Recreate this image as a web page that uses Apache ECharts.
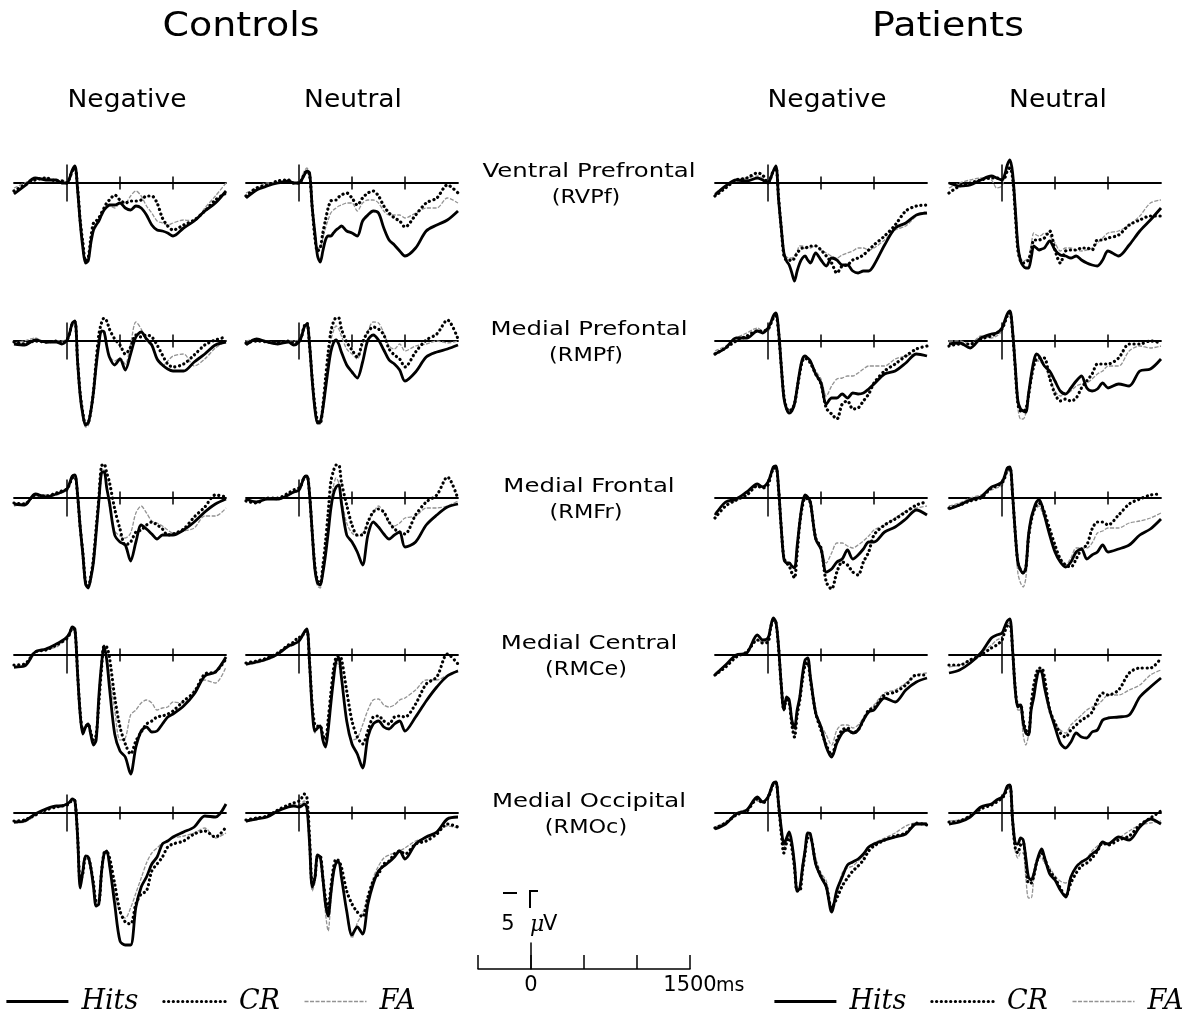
<!DOCTYPE html>
<html>

<head>
  <meta charset="utf-8">
  <style>
    html,
    body {
      width: 100%;
      height: 100%;
      margin: 0;
      padding: 0;
      overflow: hidden;
      background-color: #fff;
    }

    #container {
      width: 1193px;
      height: 1015px;
      background: #fff;
      position: absolute;
      top: 0;
      left: 0;
    }
  </style>
</head>

<body>
  <div id="container"></div>

  <script src="https://cdn.jsdelivr.net/npm/echarts@6/dist/echarts.min.js"></script>
  <script>
    // sample times (ms), denser over the early components
    var times = [-500, -400, -300, -200, -100, -50, 0, 25, 50, 75, 100, 125, 150, 175, 200, 225, 250, 275, 300, 325, 350, 375, 400,
      450, 500, 550, 600, 650, 700, 750, 800, 850, 900, 950, 1000, 1100, 1200, 1300, 1400, 1500];

    var groupNames = ['Controls', 'Patients'];
    var valenceNames = ['Negative', 'Neutral', 'Negative', 'Neutral'];
    var regionNames = ['Ventral Prefrontal', 'Medial Prefontal', 'Medial Frontal', 'Medial Central', 'Medial Occipital'];
    var regionCodes = ['(RVPf)', '(RMPf)', '(RMFr)', '(RMCe)', '(RMOc)'];
    var conditions = ['Hits', 'CR', 'FA'];
    var tickTimes = [0, 500, 1000];

    // amplitudes in uV (positive plotted downward)
    // --- Ventral Prefrontal
    var cn_vpf_hits = [1.1, 0.3, -0.5, -0.3, -0.3, 0.0, 0.0, -0.5, -1.3, -1.7, 0.7, 4.0, 6.5, 8.0, 7.8, 6.0, 4.7, 4.2, 3.8, 3.2, 2.7, 2.4, 2.2, 2.2, 2.0, 2.5, 2.7, 2.3, 2.5, 3.2, 4.2, 4.7, 4.8, 5.0, 5.3, 4.5, 3.8, 2.8, 2.0, 0.8];
    var cn_vpf_cr = [0.8, 0.2, -0.3, -0.5, -0.2, -0.2, 0.0, -0.5, -1.2, -1.5, 0.5, 3.8, 6.0, 7.8, 7.5, 5.5, 4.0, 3.8, 3.5, 3.0, 2.5, 2.0, 1.7, 1.2, 1.7, 2.0, 1.8, 1.8, 1.7, 1.3, 1.3, 2.0, 3.5, 4.3, 4.7, 4.2, 3.7, 2.8, 1.7, 1.0];
    var cn_vpf_fa = [0.5, 0.0, -0.5, -0.5, -0.2, -0.3, 0.0, -0.5, -1.4, -1.7, 0.3, 3.8, 6.0, 7.8, 7.5, 5.8, 4.5, 4.2, 3.8, 3.3, 2.7, 2.5, 2.3, 2.5, 2.0, 2.0, 1.3, 0.8, 1.3, 2.3, 3.0, 3.8, 4.0, 4.2, 4.0, 3.7, 3.8, 2.5, 1.3, 0.0];
    var cu_vpf_hits = [1.5, 0.7, 0.3, 0.0, -0.2, 0.0, 0.0, -0.3, -0.8, -1.2, -1.0, 2.5, 5.0, 7.3, 7.9, 6.8, 5.7, 5.3, 5.3, 5.0, 4.7, 4.5, 4.3, 4.8, 5.0, 5.3, 3.8, 3.2, 2.8, 3.0, 4.5, 5.7, 6.2, 6.8, 7.3, 6.5, 4.8, 4.2, 3.7, 2.8];
    var cu_vpf_cr = [1.3, 0.5, 0.2, -0.2, -0.3, 0.0, 0.0, -0.3, -0.9, -1.2, -0.8, 2.5, 5.5, 6.8, 6.5, 5.0, 3.7, 2.5, 1.8, 1.7, 1.7, 1.4, 1.2, 1.0, 1.5, 2.2, 1.5, 1.0, 0.8, 1.3, 2.3, 3.0, 3.5, 3.8, 4.4, 3.2, 2.0, 1.5, 0.2, 1.0];
    var cu_vpf_fa = [1.0, 0.5, 0.0, 0.0, -0.3, 0.0, 0.0, -0.5, -1.2, -1.5, -0.8, 2.5, 5.0, 6.5, 6.5, 5.5, 4.5, 3.7, 3.0, 2.7, 2.5, 2.3, 2.2, 2.0, 2.0, 2.8, 2.0, 1.7, 1.7, 2.0, 2.8, 3.2, 3.2, 3.2, 3.5, 3.0, 2.5, 2.5, 1.5, 2.0];
    var pn_vpf_hits = [1.2, 0.3, -0.3, -0.2, -0.5, -0.3, 0.0, -0.5, -1.2, -1.7, 1.7, 4.5, 7.0, 7.8, 8.2, 9.0, 9.8, 8.8, 8.0, 7.5, 7.3, 7.7, 8.0, 7.0, 7.7, 8.3, 7.5, 7.7, 8.2, 8.2, 8.8, 9.0, 8.8, 8.8, 8.2, 6.2, 4.5, 4.0, 3.2, 3.0];
    var pn_vpf_cr = [1.3, 0.5, -0.3, -0.5, -1.0, -0.8, 0.0, -0.5, -1.2, -1.5, 1.5, 4.5, 7.3, 7.7, 7.7, 7.8, 7.5, 7.0, 6.7, 6.5, 6.5, 6.4, 6.3, 6.3, 6.7, 7.3, 8.0, 9.0, 8.3, 8.2, 7.7, 7.5, 7.2, 6.7, 6.2, 5.3, 4.2, 2.8, 2.3, 2.2];
    var pn_vpf_fa = [1.0, 0.3, -0.3, -0.5, -0.7, -0.5, 0.0, -0.5, -1.2, -1.5, 1.5, 4.5, 7.0, 7.4, 7.5, 7.5, 7.3, 6.8, 6.3, 6.3, 6.5, 6.5, 6.5, 6.2, 6.7, 7.0, 7.3, 7.5, 7.2, 7.0, 6.8, 6.5, 6.5, 6.7, 6.5, 5.7, 4.7, 4.3, 3.3, 2.8];
    var pu_vpf_hits = [0.0, 0.3, 0.2, -0.3, -0.7, -0.5, -0.3, -0.8, -1.8, -2.3, -1.0, 2.5, 6.3, 7.8, 8.3, 8.5, 8.5, 7.5, 6.3, 6.5, 6.7, 6.6, 6.5, 5.8, 6.7, 7.2, 7.3, 7.5, 7.3, 7.7, 8.0, 8.2, 8.3, 7.7, 6.8, 7.3, 6.2, 4.8, 3.7, 2.5];
    var pu_vpf_cr = [1.0, 0.3, 0.0, -0.3, -0.5, -0.5, -0.3, -0.5, -1.2, -1.5, -0.5, 3.0, 6.7, 7.8, 8.0, 7.9, 7.7, 6.8, 5.7, 5.7, 5.7, 5.6, 5.5, 4.8, 6.7, 8.0, 6.8, 6.7, 6.7, 6.5, 6.5, 6.7, 5.7, 5.7, 5.5, 5.2, 4.2, 3.7, 3.3, 3.3];
    var pu_vpf_fa = [0.5, 0.0, -0.3, -0.5, -0.3, 0.5, 0.3, -0.8, -1.5, -1.8, -0.5, 3.0, 6.5, 7.5, 7.8, 7.7, 7.5, 6.2, 5.0, 5.2, 5.3, 5.2, 5.0, 5.3, 6.0, 6.8, 6.5, 6.5, 6.7, 6.8, 6.7, 6.5, 6.0, 5.5, 5.0, 4.8, 4.2, 3.3, 2.0, 1.7];

    // --- Medial Prefrontal
    var cn_mpf_hits = [0.3, 0.4, -0.1, 0.1, 0.1, 0.3, -0.1, -0.8, -1.8, -2.0, 2.1, 5.5, 7.4, 8.4, 8.2, 7.0, 5.1, 2.5, 0.4, -1.0, -0.9, 0.5, 1.6, 2.4, 1.8, 2.9, 1.3, -0.4, -0.9, -0.2, 0.4, 1.8, 2.4, 2.8, 3.0, 3.0, 2.1, 1.3, 0.4, 0.1];
    var cn_mpf_cr = [0.1, 0.3, 0.0, 0.1, 0.0, 0.2, -0.1, -0.8, -1.7, -1.9, 2.0, 5.3, 7.2, 8.3, 8.2, 7.0, 5.0, 2.0, -0.6, -1.8, -2.3, -2.0, -1.2, -0.2, 0.4, 1.3, 0.6, -0.6, -0.4, -0.6, -0.4, 0.4, 1.4, 2.3, 2.6, 2.3, 1.4, 0.4, -0.1, -0.4];
    var cn_mpf_fa = [0.2, 0.0, -0.3, 0.2, 0.0, 0.0, -0.2, -0.7, -1.6, -1.8, 2.0, 5.5, 7.5, 8.6, 8.5, 7.2, 5.0, 2.2, 0.0, -1.0, -1.0, 0.3, 1.5, 2.0, 1.7, 2.3, 0.3, -1.9, -1.2, 0.0, 0.5, 1.8, 2.5, 2.0, 1.5, 1.3, 2.5, 1.8, 0.7, 0.0];
    var cu_mpf_hits = [0.4, -0.2, 0.1, 0.3, 0.1, 0.4, 0.1, -0.5, -1.4, -1.7, 0.4, 4.0, 6.8, 8.2, 8.1, 6.8, 4.8, 2.8, 1.1, 0.2, -0.1, 0.3, 1.1, 2.4, 3.1, 3.7, 2.1, -0.1, -0.6, -0.1, 0.9, 1.9, 2.3, 2.9, 4.0, 3.1, 1.6, 1.1, 0.8, 0.4];
    var cu_mpf_cr = [0.2, 0.0, 0.1, 0.2, 0.0, 0.2, 0.0, -0.5, -1.5, -1.8, 0.5, 3.8, 6.5, 8.0, 8.2, 6.5, 3.8, 1.2, -0.9, -1.9, -2.3, -2.3, -1.2, 0.1, 0.9, 1.6, 0.1, -0.9, -1.4, -1.2, -0.6, 0.8, 1.4, 1.8, 2.6, 1.1, -0.1, -0.7, -2.1, -0.2];
    var cu_mpf_fa = [0.0, -0.2, 0.0, 0.2, 0.0, 0.0, -0.1, -0.5, -1.5, -1.8, 0.5, 4.0, 7.0, 8.3, 8.3, 6.5, 4.0, 1.8, 0.0, -1.0, -1.5, -1.2, -0.5, 0.8, 1.3, 1.8, 0.3, -1.0, -1.9, -1.8, -0.8, 0.5, 0.8, 0.3, 1.0, 0.5, 0.3, 0.0, 0.2, 0.0];
    var pn_mpf_hits = [1.3, 0.7, -0.3, -0.3, -1.0, -0.8, -1.3, -1.8, -2.5, -2.8, -1.0, 2.5, 5.7, 6.8, 7.2, 7.0, 6.3, 4.7, 3.0, 1.8, 1.5, 1.7, 2.0, 3.3, 4.2, 6.3, 5.7, 5.7, 5.3, 5.7, 5.2, 5.3, 5.2, 4.8, 4.3, 3.3, 3.0, 2.2, 1.3, 1.5];
    var pn_mpf_cr = [1.3, 0.7, 0.0, -0.5, -1.0, -1.0, -1.2, -1.7, -2.3, -2.5, -0.8, 2.5, 5.5, 6.7, 7.0, 6.8, 6.3, 4.8, 3.2, 2.0, 1.7, 1.9, 2.2, 3.3, 4.3, 6.7, 7.3, 7.8, 6.3, 6.0, 6.8, 6.7, 6.0, 5.3, 4.2, 3.0, 2.3, 1.5, 0.8, 0.5];
    var pn_mpf_fa = [1.0, 0.5, -0.3, -0.8, -1.3, -1.0, -1.0, -1.6, -2.2, -2.5, -0.8, 2.5, 5.5, 6.7, 7.0, 6.7, 6.0, 4.5, 3.0, 1.8, 1.5, 1.7, 2.0, 3.0, 3.8, 5.5, 4.5, 3.8, 3.7, 3.5, 3.5, 3.2, 2.8, 2.5, 2.5, 2.5, 1.8, 1.5, 1.3, 1.5];
    var pu_mpf_hits = [0.3, 0.2, 0.7, -0.3, -0.7, -0.8, -1.3, -2.0, -2.7, -3.0, -1.0, 2.5, 6.0, 6.8, 7.0, 7.1, 5.3, 3.5, 2.0, 1.3, 1.5, 2.0, 2.5, 3.0, 4.0, 5.0, 5.3, 4.7, 4.0, 3.5, 4.7, 5.0, 4.8, 4.2, 4.7, 4.3, 4.5, 3.0, 2.8, 1.8];
    var pu_mpf_cr = [0.5, 0.3, 0.3, -0.2, -0.5, -0.8, -1.2, -1.8, -2.5, -2.8, -0.8, 2.8, 6.3, 7.0, 7.0, 6.8, 5.5, 3.8, 2.5, 1.8, 1.7, 1.7, 1.7, 3.7, 5.3, 6.0, 5.8, 6.0, 5.7, 4.7, 4.0, 3.3, 2.3, 2.3, 2.3, 1.7, 0.3, 0.3, 0.0, 0.2];
    var pu_mpf_fa = [0.0, 0.0, 0.3, -0.5, -0.3, -0.5, -1.0, -1.8, -2.5, -2.8, -0.5, 3.0, 6.7, 7.8, 7.8, 7.2, 5.5, 3.8, 2.5, 2.0, 2.0, 2.2, 2.5, 3.7, 5.0, 5.5, 5.3, 5.0, 4.5, 4.3, 4.2, 3.8, 3.3, 3.0, 2.5, 2.5, 1.0, 0.5, 0.7, 0.5];

    // --- Medial Frontal
    var cn_mfr_hits = [0.6, 0.7, -0.4, -0.1, -0.4, -0.6, -0.9, -1.5, -2.2, -2.3, -0.3, 3.0, 5.7, 8.6, 9.0, 8.0, 6.4, 3.5, 0.4, -2.5, -2.6, -1.0, 0.4, 3.7, 4.4, 4.7, 6.3, 4.4, 2.7, 3.1, 3.6, 4.1, 3.7, 3.7, 3.7, 3.2, 2.4, 1.4, 0.6, 0.1];
    var cn_mfr_cr = [0.5, 0.6, -0.3, -0.2, -0.5, -0.7, -0.9, -1.4, -2.0, -2.1, -0.2, 3.0, 5.5, 8.4, 8.8, 7.8, 6.0, 3.0, 0.0, -3.2, -3.4, -2.5, -1.6, 1.1, 3.1, 4.7, 4.4, 3.4, 3.2, 2.7, 2.4, 2.7, 3.1, 3.7, 3.6, 3.1, 1.9, 0.9, -0.3, -0.1];
    var cn_mfr_fa = [0.8, 0.5, -0.2, -0.3, -0.3, -0.5, -0.7, -1.3, -1.9, -2.0, -0.2, 3.0, 5.5, 8.4, 8.8, 8.0, 6.2, 3.2, 0.3, -2.5, -2.8, -1.0, 0.8, 3.3, 3.8, 4.0, 3.5, 1.5, 0.8, 1.5, 2.3, 2.5, 2.8, 3.2, 3.5, 3.3, 3.0, 1.8, 1.8, 1.0];
    var cu_mfr_hits = [0.1, 0.4, 0.1, 0.1, -0.3, -0.6, -0.8, -1.4, -2.1, -2.2, -0.3, 3.5, 7.1, 8.5, 8.7, 7.5, 5.7, 3.5, 1.1, -0.4, -1.1, -1.3, 0.5, 3.7, 4.4, 5.4, 6.7, 3.7, 2.4, 2.9, 3.6, 4.1, 3.7, 3.4, 4.9, 4.4, 2.7, 1.7, 0.9, 0.6];
    var cu_mfr_cr = [0.3, 0.5, 0.0, 0.0, -0.5, -0.8, -1.0, -1.4, -2.1, -2.2, -0.3, 3.5, 6.8, 8.3, 8.5, 6.8, 4.4, 1.5, -1.6, -2.7, -3.3, -3.3, -1.6, 0.7, 2.7, 3.7, 3.7, 2.4, 1.4, 1.1, 1.4, 2.4, 3.1, 3.4, 3.6, 1.7, 0.4, -0.3, -2.1, 0.1];
    var cu_mfr_fa = [0.2, 0.3, 0.0, 0.2, -0.3, -0.5, -0.7, -1.3, -1.9, -2.0, -0.3, 3.8, 7.5, 8.8, 9.0, 7.5, 5.0, 2.8, 0.5, -1.2, -2.0, -1.5, 0.0, 2.5, 3.5, 3.8, 3.5, 2.5, 1.5, 0.8, 1.5, 2.5, 2.8, 2.5, 2.0, 1.8, 1.0, 1.0, 0.8, 0.3];
    var pn_mfr_hits = [1.7, 0.4, 0.1, -0.6, -1.4, -1.1, -1.6, -2.3, -3.1, -3.2, -0.9, 3.0, 6.1, 6.5, 6.5, 6.8, 7.0, 4.8, 2.4, 0.5, -0.3, -0.1, 0.4, 4.1, 5.1, 7.4, 7.1, 6.4, 6.1, 5.2, 6.1, 5.7, 5.1, 4.4, 4.4, 3.4, 2.9, 2.1, 1.2, 1.7];
    var pn_mfr_cr = [2.0, 0.8, 0.2, -0.3, -1.2, -1.0, -1.3, -2.2, -2.9, -3.0, -0.8, 3.0, 6.0, 6.5, 6.8, 7.5, 8.0, 5.5, 2.5, 0.8, 0.0, 0.1, 0.5, 4.0, 5.0, 8.4, 9.1, 7.4, 6.4, 6.7, 7.4, 7.7, 6.4, 5.4, 3.7, 2.7, 2.1, 1.4, 0.7, 0.4];
    var pn_mfr_fa = [1.5, 0.5, 0.3, -0.5, -1.2, -1.2, -1.5, -2.2, -2.9, -3.0, -0.8, 3.0, 6.0, 6.4, 6.5, 6.8, 7.0, 4.8, 2.5, 0.5, -0.2, 0.0, 0.5, 4.0, 5.0, 6.5, 5.5, 4.5, 4.5, 4.8, 5.0, 4.7, 4.3, 3.8, 3.2, 2.7, 2.0, 1.3, 1.0, 0.8];
    var pu_mfr_hits = [1.1, 0.7, 0.2, -0.1, -1.1, -1.3, -1.6, -2.2, -3.0, -3.1, -0.3, 3.5, 6.4, 7.2, 7.5, 7.0, 3.7, 2.0, 1.1, 0.4, 0.2, 0.7, 1.7, 3.7, 5.4, 6.4, 6.9, 6.4, 5.4, 5.1, 6.1, 5.7, 5.4, 4.7, 5.4, 5.1, 4.7, 3.7, 3.1, 2.1];
    var pu_mfr_cr = [1.0, 0.7, 0.3, 0.0, -1.0, -1.2, -1.5, -2.0, -2.8, -3.0, -0.3, 3.5, 6.5, 7.2, 7.5, 7.0, 4.0, 2.3, 1.3, 0.7, 0.5, 0.8, 1.4, 3.1, 4.7, 6.1, 6.7, 6.9, 6.1, 5.1, 4.7, 3.1, 2.4, 2.4, 2.7, 1.7, 0.6, 0.1, -0.3, -0.4];
    var pu_mfr_fa = [0.8, 0.5, 0.0, -0.3, -0.8, -1.0, -1.2, -1.9, -2.6, -2.8, -0.3, 4.0, 7.5, 8.5, 8.9, 8.0, 4.5, 2.5, 1.5, 1.0, 0.8, 1.3, 2.0, 3.3, 5.0, 6.0, 6.7, 6.0, 5.0, 5.0, 5.0, 4.5, 3.5, 3.3, 3.0, 3.0, 2.5, 2.3, 2.0, 1.5];

    // --- Medial Central
    var cn_mce_hits = [1.2, 1.1, -0.3, -0.6, -1.1, -1.4, -1.8, -2.2, -2.8, -2.6, 1.9, 6.0, 7.9, 7.2, 6.9, 8.0, 9.0, 8.5, 4.2, 1.0, -0.9, 0.5, 3.2, 7.9, 9.6, 10.2, 11.9, 9.2, 7.6, 7.2, 7.7, 7.6, 6.9, 6.2, 5.9, 5.1, 3.9, 2.1, 1.7, 0.2];
    var cn_mce_cr = [1.0, 0.9, -0.3, -0.5, -1.0, -1.3, -1.7, -2.1, -2.7, -2.5, 1.8, 5.8, 7.5, 7.2, 6.9, 7.8, 8.5, 8.0, 4.9, 1.5, -0.9, -0.8, 0.2, 4.2, 7.2, 8.9, 9.9, 8.6, 7.7, 6.9, 6.6, 6.2, 6.1, 5.9, 5.6, 4.6, 3.7, 1.9, 1.7, 0.4];
    var cn_mce_fa = [1.3, 1.0, -0.2, -0.5, -0.8, -1.2, -1.5, -1.9, -2.5, -2.3, 1.8, 6.0, 7.8, 7.3, 7.0, 8.0, 8.7, 8.2, 4.5, 1.2, -0.8, 0.0, 2.0, 5.5, 8.5, 8.3, 6.0, 5.5, 4.8, 4.5, 4.8, 5.5, 5.3, 5.2, 4.7, 4.8, 3.5, 2.5, 2.8, 1.2];
    var cu_mce_hits = [0.9, 0.7, 0.4, -0.1, -0.9, -1.1, -1.4, -1.8, -2.3, -2.6, 0.9, 5.5, 7.6, 7.3, 7.1, 8.5, 9.2, 7.5, 4.9, 2.5, 0.6, 0.3, 2.2, 6.6, 8.9, 9.9, 11.3, 8.2, 6.9, 6.6, 7.2, 7.4, 6.9, 6.6, 7.6, 6.2, 4.6, 3.2, 2.1, 1.6];
    var cu_mce_cr = [0.8, 0.6, 0.3, -0.2, -1.0, -1.3, -1.8, -1.8, -2.3, -2.4, 0.8, 5.0, 7.0, 7.1, 7.1, 8.0, 8.5, 6.5, 3.9, 1.5, 0.2, 0.1, 0.4, 3.6, 6.6, 8.2, 8.9, 7.6, 6.2, 6.1, 6.6, 6.9, 6.2, 6.1, 6.2, 4.9, 2.9, 2.2, -0.1, 0.9];
    var cu_mce_fa = [1.0, 0.8, 0.5, 0.0, -0.8, -1.0, -1.5, -1.7, -2.2, -2.3, 0.9, 5.5, 7.8, 7.4, 7.2, 8.5, 9.2, 7.0, 4.5, 2.0, 0.8, 1.0, 2.5, 6.5, 8.5, 8.3, 7.0, 5.5, 4.5, 4.4, 5.0, 5.2, 5.0, 4.5, 4.3, 3.5, 2.5, 2.5, 2.0, 1.5];
    var pn_mce_hits = [2.0, 1.0, 0.0, -0.2, -2.0, -1.5, -1.7, -2.8, -3.7, -3.3, -0.8, 3.0, 5.5, 4.2, 4.5, 6.5, 7.3, 5.5, 4.2, 2.0, 0.5, 0.3, 2.2, 5.8, 7.2, 9.2, 10.2, 8.8, 7.8, 7.5, 7.8, 7.5, 6.5, 5.7, 5.5, 4.3, 4.7, 3.5, 2.7, 2.3];
    var pn_mce_cr = [2.0, 1.2, 0.2, -0.3, -1.5, -1.2, -1.3, -2.7, -3.5, -3.2, -0.6, 3.0, 5.5, 4.5, 4.8, 7.0, 8.2, 6.0, 4.5, 2.5, 1.0, 0.8, 2.5, 5.8, 7.5, 9.0, 10.0, 8.5, 7.5, 7.3, 7.8, 7.5, 6.5, 5.5, 5.3, 4.0, 3.7, 3.0, 2.0, 2.0];
    var pn_mce_fa = [1.8, 1.0, 0.0, -0.3, -1.5, -1.3, -1.5, -2.7, -3.5, -3.2, -0.7, 3.0, 5.3, 4.3, 4.6, 7.0, 8.0, 5.8, 4.3, 2.2, 0.8, 0.6, 2.3, 5.5, 7.0, 8.0, 9.0, 7.5, 7.0, 7.0, 7.3, 7.0, 6.3, 5.5, 5.0, 3.8, 3.5, 2.8, 2.0, 1.8];
    var pu_mce_hits = [1.8, 1.5, 0.8, -0.2, -1.7, -2.0, -2.2, -2.8, -3.4, -3.6, -0.5, 3.5, 5.2, 5.0, 6.8, 7.8, 8.0, 5.5, 4.2, 2.5, 1.6, 1.7, 3.2, 5.5, 7.2, 8.8, 9.3, 8.7, 7.8, 8.2, 8.3, 7.7, 7.5, 6.5, 6.3, 6.2, 6.0, 4.2, 3.2, 2.3];
    var pu_mce_cr = [1.0, 1.0, 0.5, 0.0, -0.7, -1.0, -1.5, -2.3, -2.9, -3.0, -0.5, 3.3, 5.0, 5.0, 6.5, 7.5, 7.8, 5.0, 3.0, 1.8, 1.3, 1.3, 2.2, 5.5, 6.8, 7.8, 8.2, 7.5, 7.0, 6.5, 6.2, 5.7, 4.5, 3.8, 4.0, 3.5, 1.8, 1.3, 1.3, 0.3];
    var pu_mce_fa = [1.2, 1.0, 0.5, -0.2, -1.0, -1.5, -1.8, -2.5, -3.1, -3.2, -0.5, 3.5, 5.5, 5.5, 8.0, 9.0, 8.0, 5.3, 3.5, 2.2, 1.5, 1.5, 2.5, 5.3, 6.8, 7.5, 7.8, 7.0, 6.5, 6.0, 5.5, 5.2, 5.0, 4.5, 4.0, 4.0, 3.5, 3.0, 2.0, 1.5];

    // --- Medial Occipital
    var cn_moc_hits = [0.9, 0.8, 0.1, -0.4, -0.7, -0.7, -0.9, -1.1, -1.4, -1.2, 2.4, 7.5, 5.8, 4.3, 4.4, 5.5, 7.4, 9.3, 9.1, 6.0, 4.1, 3.8, 5.1, 9.1, 12.8, 13.2, 13.2, 9.4, 7.4, 6.4, 5.1, 4.4, 3.1, 2.8, 2.4, 1.9, 1.4, 0.3, 0.4, -0.9];
    var cn_moc_cr = [0.8, 0.7, 0.2, -0.3, -0.6, -0.7, -0.8, -1.0, -1.3, -1.2, 2.2, 6.8, 6.0, 4.5, 4.5, 5.5, 7.0, 8.8, 8.8, 6.0, 4.0, 3.9, 4.4, 7.1, 9.8, 10.9, 11.1, 9.1, 8.1, 7.8, 5.8, 5.1, 4.4, 3.4, 3.1, 2.8, 2.1, 1.8, 2.4, 1.4];
    var cn_moc_fa = [1.0, 0.9, 0.3, -0.3, -0.7, -0.8, -0.8, -1.0, -1.3, -1.1, 2.3, 7.3, 6.0, 4.3, 4.5, 5.5, 7.3, 9.3, 9.0, 6.0, 4.0, 4.0, 5.5, 8.0, 10.0, 10.5, 9.5, 8.0, 6.5, 5.0, 4.0, 3.5, 3.0, 2.8, 2.5, 2.3, 2.0, 1.5, 2.5, 2.0];
    var cu_moc_hits = [0.8, 0.6, 0.4, -0.2, -0.6, -0.7, -0.6, -0.7, -0.9, -0.5, 3.1, 7.4, 6.5, 4.2, 4.4, 6.5, 9.1, 10.3, 8.1, 6.0, 5.0, 4.9, 6.4, 9.8, 12.2, 11.4, 12.1, 9.1, 7.1, 5.8, 5.3, 4.9, 4.4, 3.8, 4.6, 3.1, 2.4, 1.9, 0.6, 0.4];
    var cu_moc_cr = [0.7, 0.5, 0.3, -0.3, -0.8, -1.0, -1.2, -1.5, -1.9, -1.5, 2.5, 7.0, 6.5, 4.3, 4.3, 6.5, 8.5, 9.5, 7.5, 5.5, 4.6, 4.8, 5.4, 7.8, 9.1, 9.9, 10.4, 8.4, 6.8, 6.1, 5.1, 4.8, 4.1, 3.8, 4.1, 3.1, 2.8, 2.1, 1.1, 1.4];
    var cu_moc_fa = [0.9, 0.6, 0.3, -0.2, -0.7, -0.8, -0.8, -1.0, -1.2, -0.8, 3.0, 7.8, 7.0, 4.5, 4.5, 7.0, 10.0, 11.8, 9.0, 6.5, 5.0, 5.0, 6.5, 10.0, 12.5, 11.0, 10.0, 8.5, 6.5, 5.3, 4.5, 4.2, 4.0, 3.8, 3.5, 2.8, 2.5, 2.0, 1.3, 1.5];
    var pn_moc_hits = [1.6, 1.1, 0.1, -0.3, -1.6, -1.1, -1.6, -2.3, -3.0, -3.1, -0.9, 1.5, 3.1, 2.5, 1.9, 3.0, 5.1, 7.8, 7.5, 5.5, 3.7, 2.0, 2.1, 5.1, 6.4, 7.4, 9.9, 7.7, 6.4, 5.2, 4.9, 4.6, 4.1, 3.4, 3.1, 2.7, 2.4, 2.1, 1.1, 1.1];
    var pn_moc_cr = [1.5, 1.0, 0.2, -0.2, -1.4, -1.0, -1.5, -2.2, -2.9, -3.0, -0.8, 2.0, 4.0, 3.0, 2.5, 3.5, 5.5, 7.8, 7.8, 5.8, 4.0, 2.5, 2.5, 5.0, 6.3, 7.3, 9.5, 8.5, 7.3, 6.5, 5.8, 5.3, 4.7, 3.8, 3.3, 2.7, 2.3, 2.0, 1.0, 1.2];
    var pn_moc_fa = [1.4, 0.9, 0.0, -0.4, -1.2, -1.2, -1.4, -2.0, -2.8, -2.9, -0.8, 1.8, 3.5, 2.8, 2.2, 3.2, 5.0, 7.0, 7.0, 5.0, 3.5, 2.2, 2.3, 4.5, 6.0, 6.8, 9.3, 8.0, 6.0, 5.5, 5.3, 4.8, 4.3, 3.5, 3.0, 2.5, 2.0, 1.3, 1.0, 1.0];
    var pu_moc_hits = [1.1, 0.9, 0.4, -0.6, -0.9, -1.3, -1.6, -2.0, -2.7, -2.8, 0.7, 3.0, 3.1, 2.5, 2.7, 4.5, 6.4, 6.7, 6.1, 5.0, 4.1, 3.6, 4.4, 6.1, 6.7, 7.7, 8.4, 6.4, 5.4, 4.9, 4.6, 4.1, 3.7, 2.9, 3.1, 2.4, 2.7, 1.4, 0.6, 1.1];
    var pu_moc_cr = [0.9, 0.8, 0.3, -0.4, -0.8, -1.1, -1.5, -1.8, -2.5, -2.7, 0.8, 3.5, 4.0, 3.2, 3.0, 5.0, 7.0, 7.0, 6.3, 5.0, 4.3, 4.0, 4.5, 5.8, 6.5, 7.5, 8.3, 7.0, 6.0, 5.3, 5.0, 4.5, 3.8, 3.0, 3.2, 2.7, 2.3, 1.2, 0.5, -0.2];
    var pu_moc_fa = [0.8, 0.7, 0.2, -0.5, -0.9, -1.2, -1.4, -1.8, -2.5, -2.7, 0.8, 3.8, 4.5, 4.0, 4.0, 6.5, 8.5, 8.5, 6.5, 5.0, 4.5, 4.5, 5.0, 5.5, 6.3, 6.8, 7.0, 6.5, 5.3, 4.8, 4.5, 3.8, 3.3, 3.0, 3.0, 2.5, 1.8, 1.2, 1.0, 0.8];

    // 布局
    var regionKeys = ['vpf', 'mpf', 'mfr', 'mce', 'moc'];
    var panelKeys = ['cn', 'cu', 'pn', 'pu'];
    var colLeft = [14, 246, 715, 949];
    var rowBase = [183, 341, 498, 655, 813];
    var panelWidth = 212;
    var pxPerUv = 10;
    var yMin = -5, yMax = 15;

    var condStyle = {
      Hits: { color: '#000', width: 2.8, type: 'solid' },
      CR: { color: '#000', width: 3.2, type: [0.1, 4.6], cap: 'round' },
      FA: { color: '#939393', width: 1.3, type: [4, 1.5] }
    };

    var grids = [], xAxes = [], yAxes = [], series = [];

    regionKeys.forEach(function (rk, r) {
      panelKeys.forEach(function (pk, c) {
        var idx = grids.length;
        grids.push({
          left: colLeft[c],
          top: rowBase[r] + yMin * pxPerUv,
          width: panelWidth,
          height: (yMax - yMin) * pxPerUv
        });
        xAxes.push({
          gridIndex: idx, type: 'value', min: -500, max: 1500,
          axisLine: { show: true, onZero: true, lineStyle: { color: '#000', width: 1.8 } },
          axisTick: { show: false }, axisLabel: { show: false }, splitLine: { show: false }
        });
        yAxes.push({
          gridIndex: idx, type: 'value', min: yMin, max: yMax, inverse: true,
          axisLine: { show: false }, axisTick: { show: false }, axisLabel: { show: false }, splitLine: { show: false }
        });

        // FA underneath, Hits on top
        ['FA', 'CR', 'Hits'].forEach(function (cond) {
          var values = window[pk + '_' + rk + '_' + cond.toLowerCase()];
          var s = {
            name: cond,
            type: 'line',
            xAxisIndex: idx,
            yAxisIndex: idx,
            smooth: 0.3,
            symbol: 'none',
            silent: true,
            lineStyle: condStyle[cond],
            data: times.map(function (t, i) { return [t, values[i]]; })
          };
          if (cond === 'Hits') {
            s.markLine = {
              silent: true,
              symbol: ['none', 'none'],
              label: { show: false },
              lineStyle: { color: '#000', width: 1.5, type: 'solid' },
              data: tickTimes.map(function (t) {
                var h = t === 0 ? 1.85 : 0.65;
                return [{ coord: [t, -h] }, { coord: [t, h] }];
              })
            };
          }
          series.push(s);
        });
      });
    });

    // time scale bar grid
    var scaleIdx = grids.length;
    grids.push({ left: 478, top: 943, width: panelWidth, height: 26 });
    xAxes.push({
      gridIndex: scaleIdx, type: 'value', min: -500, max: 1500, interval: 500, position: 'bottom',
      axisLine: { show: true, onZero: false, lineStyle: { color: '#000', width: 1.5 } },
      axisTick: { show: true, inside: true, length: 14, lineStyle: { color: '#000', width: 1.5 } },
      axisLabel: {
        show: true, color: '#000', fontSize: 21, fontFamily: 'DejaVu Sans', margin: 6,
        formatter: function (v) { return (v === 0 || v === 1500) ? String(v) : ''; }
      },
      splitLine: { show: false }
    });
    yAxes.push({
      gridIndex: scaleIdx, type: 'value', min: 0, max: 1,
      axisLine: { show: true, onZero: true, lineStyle: { color: '#000', width: 1.5 } },
      axisTick: { show: false }, axisLabel: { show: false }, splitLine: { show: false }
    });

    function txt(x, y, text, size, extra, sx) {
      var style = {
        text: text, fill: '#000', fontSize: size, fontFamily: 'DejaVu Sans',
        align: 'center', verticalAlign: 'middle'
      };
      if (extra) { for (var k in extra) style[k] = extra[k]; }
      return { type: 'text', x: x, y: y, scaleX: sx || 1, silent: true, style: style };
    }

    var graphics = [
      txt(241, 27, groupNames[0], 33, null, 1.15),
      txt(948, 27, groupNames[1], 33, null, 1.15),
      txt(127, 100, valenceNames[0], 25, null, 1.06),
      txt(353, 100, valenceNames[1], 25, null, 1.06),
      txt(827, 100, valenceNames[2], 25, null, 1.06),
      txt(1058, 100, valenceNames[3], 25, null, 1.06),
      txt(716, 986, 'ms', 19, { align: 'left' }),
      txt(508, 925, '5', 21),
      txt(530, 925, 'μ', 22, { align: 'left', fontStyle: 'italic', fontFamily: 'DejaVu Serif' }),
      txt(543, 925, 'V', 21, { align: 'left' }),
      { type: 'line', silent: true, shape: { x1: 503, y1: 893, x2: 517, y2: 893 }, style: { stroke: '#000', lineWidth: 2 } },
      { type: 'polyline', silent: true, shape: { points: [[530, 908], [530, 891], [538, 891]] }, style: { stroke: '#000', lineWidth: 2, fill: null } }
    ];
    regionNames.forEach(function (name, r) {
      graphics.push(txt(589, rowBase[r] - 11, name, 20, null, 1.22));
      graphics.push(txt(586, rowBase[r] + 15, regionCodes[r], 20, null, 1.12));
    });

    function legendAt(left) {
      return {
        left: left, top: 988, orient: 'horizontal', padding: 0,
        itemWidth: 62, itemHeight: 24, itemGap: 24, selectedMode: false,
        textStyle: { fontFamily: 'DejaVu Serif', fontStyle: 'italic', fontSize: 27, color: '#000', padding: [0, 0, 0, 8] },
        data: conditions.map(function (cond) {
          return {
            name: cond,
            itemStyle: { color: 'rgba(0,0,0,0)', borderWidth: 0 },
            lineStyle: condStyle[cond]
          };
        })
      };
    }

    var chart = echarts.init(document.getElementById('container'));
    chart.setOption({
      animation: false,
      backgroundColor: '#fff',
      grid: grids,
      xAxis: xAxes,
      yAxis: yAxes,
      legend: [legendAt(5), legendAt(773)],
      graphic: graphics,
      series: series
    });

    window.addEventListener('resize', function () {
      chart.resize();
    });
  </script>
</body>

</html>
